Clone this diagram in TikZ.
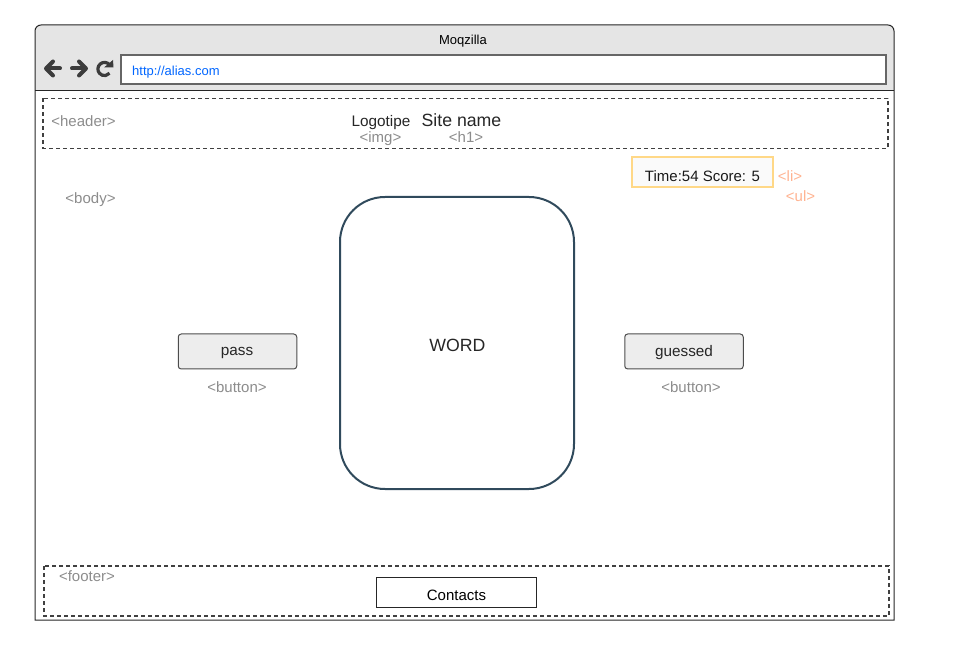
\documentclass[tikz,border=0pt]{standalone}
\usepackage{xcolor}
\usepackage{fontspec}
\setmainfont{Liberation Sans}
\definecolor{Col1}{RGB}{48,74,92}
\definecolor{Col2}{RGB}{255,216,135}
\definecolor{Col3}{RGB}{255,179,145}
\definecolor{Col4}{RGB}{60,60,60}
\tikzstyle{Tag}=[text=black!45,font=\fontsize{15}{15}\selectfont,inner sep=0pt]
\tikzstyle{TagOrange}=[text=Col3,font=\fontsize{15}{15}\selectfont,inner sep=0pt]
\tikzstyle{Label}=[text=black!85,font=\fontsize{15.3}{15}\selectfont,inner sep=0pt]
\tikzstyle{Title}=[text=black!85,font=\fontsize{17.7}{18}\selectfont,inner sep=0pt]
\tikzstyle{Zone}=[draw=black!75,line width=1.2pt,dash pattern=on 4pt off 3pt]
\tikzstyle{Btn}=[draw=black!70,fill=black!7,rounded corners=3pt,line width=1pt,
minimum width=118.5pt,minimum height=35pt,inner sep=0pt]
\tikzstyle{Icon}=[draw=Col4,line width=4pt,line join=round,line cap=round]
\begin{document}
\begin{tikzpicture}[x=1pt,y=-1pt]
            \useasboundingbox(0,0)rectangle(962,652);
            \fill[black!10](35,91)--(35,31).. controls (35,27.7) and (37.7,25) .. (41,25)
                --(888,25).. controls (891.3,25) and (894,27.7) .. (894,31)--(894,91)--cycle;
            \draw[black!85,line width=1pt](35,620)--(35,31).. controls (35,27.7) and (37.7,25) .. (41,25)
                --(888,25).. controls (891.3,25) and (894,27.7) .. (894,31)--(894,620)--cycle;
            \draw[black!85,line width=1pt](35,91)--(894,91);
            \node[font=\fontsize{13}{13}\selectfont,inner sep=0pt](title)at(463,41){Moqzilla};
            \node[draw=black!60,fill=white,line width=1.5pt,minimum width=765pt,
                minimum height=29pt,inner sep=0pt](address)at(503.5,69.5){};
            \node[anchor=west,text=blue!60!cyan,font=\fontsize{13}{13}\selectfont,
                inner sep=0pt](url)at(132,72){http://alias.com};
            % toolbar icons
            \draw[Icon](60,68.5)--(47,68.5);
            \draw[Icon](53,61.5)--(46,68.5)--(53,75.5);
            \draw[Icon](72,68.5)--(85,68.5);
            \draw[Icon](79,61.5)--(86,68.5)--(79,75.5);
            \draw[Col4,line width=3.2pt](109.55,64.76)arc[start angle=-40,end angle=-320,radius=6.6];
            \fill[Col4](104,67.5)--(113.5,67.5)--(113,60)--cycle;
            % header
            \draw[Zone](43,98.5)rectangle(888,148.5);
            \node[Tag](header)at(83.5,121.5){<header>};
            \node[Label](logo)at(381,122.5){Logotipe};
            \node[Tag](img)at(380.5,138.5){<img>};
            \node[Title](site)at(461.5,120.5){Site name};
            \node[Tag](h1)at(466,137.5){<h1>};
            % body
            \node[Tag](body)at(90.5,199.5){<body>};
            \node[draw=Col2,fill=black!2,line width=1.2pt,minimum width=141pt,
                minimum height=30pt,inner sep=0pt](score)at(702.5,172){};
            \node[text=black!90,font=\fontsize{15}{15}\selectfont,inner sep=0pt]
                (scoretext)at(702.5,176){Time:54 Score: 5};
            \node[TagOrange](li)at(790,176){<li>};
            \node[TagOrange](ul)at(800.5,196){<ul>};
            \node[draw=Col1,line width=2pt,rounded corners=45pt,minimum width=234pt,
                minimum height=292pt,inner sep=0pt](word)at(457,343){};
            \node[Title](wordtext)at(457.5,345.5){WORD};
            \node[Btn](pass)at(237.5,351.5){};
            \node[Label](passtext)at(237,353){pass};
            \node[Tag](passtag)at(237,387){<button>};
            \node[Btn](guessed)at(684,351.5){};
            \node[Label](guessedtext)at(684,352.5){guessed};
            \node[Tag](guessedtag)at(691,387){<button>};
            % footer
            \draw[Zone](44,566)rectangle(889,616);
            \node[Tag](footer)at(87,576){<footer>};
            \node[draw=black!85,line width=1pt,minimum width=160pt,minimum height=30pt,
                inner sep=0pt](contacts)at(456.5,592){};
            \node[text=black,font=\fontsize{15}{15}\selectfont,inner sep=0pt](contactstext)at(456.5,595){Contacts};
        \end{tikzpicture}
\end{document}
